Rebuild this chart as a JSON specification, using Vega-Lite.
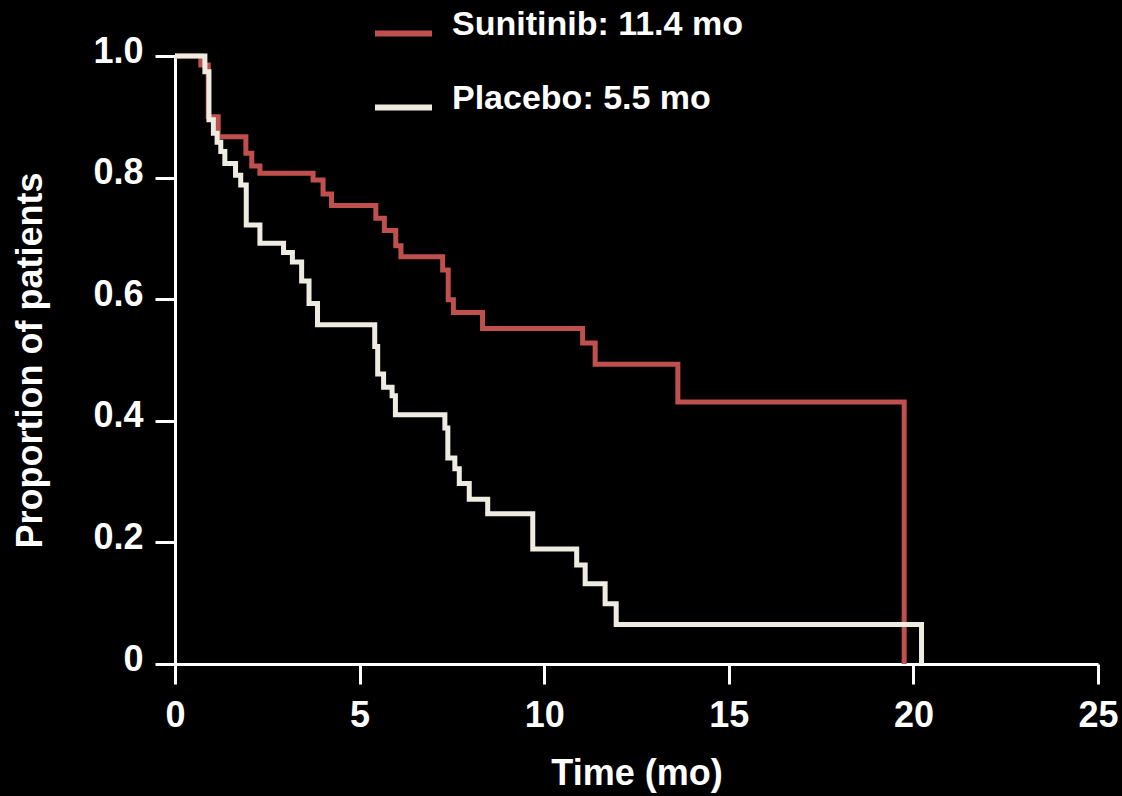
{
  "$schema": "https://vega.github.io/schema/vega-lite/v6.json",
  "width": 923,
  "height": 608,
  "autosize": {"type": "none"},
  "padding": {"left": 175, "top": 56, "right": 24, "bottom": 132},
  "background": "#000000",
  "config": {
    "view": {"stroke": null},
    "font": "Liberation Sans",
    "axis": {
      "grid": false,
      "domainColor": "#FFFFFF",
      "domainWidth": 3,
      "tickColor": "#FFFFFF",
      "tickWidth": 3,
      "tickSize": 20,
      "labelColor": "#FFFFFF",
      "labelFont": "Liberation Sans",
      "labelFontWeight": "bold",
      "labelFontSize": 36,
      "titleColor": "#FFFFFF",
      "titleFont": "Liberation Sans",
      "titleFontWeight": "bold",
      "titleFontSize": 36
    }
  },
  "data": {
    "values": [
      {"arm": "Sunitinib: 11.4 mo", "t": 0, "s": 1.0},
      {"arm": "Sunitinib: 11.4 mo", "t": 0.70, "s": 0.985},
      {"arm": "Sunitinib: 11.4 mo", "t": 0.90, "s": 0.90},
      {"arm": "Sunitinib: 11.4 mo", "t": 1.17, "s": 0.867},
      {"arm": "Sunitinib: 11.4 mo", "t": 1.92, "s": 0.840},
      {"arm": "Sunitinib: 11.4 mo", "t": 2.08, "s": 0.819},
      {"arm": "Sunitinib: 11.4 mo", "t": 2.30, "s": 0.807},
      {"arm": "Sunitinib: 11.4 mo", "t": 3.74, "s": 0.796},
      {"arm": "Sunitinib: 11.4 mo", "t": 4.01, "s": 0.773},
      {"arm": "Sunitinib: 11.4 mo", "t": 4.24, "s": 0.754},
      {"arm": "Sunitinib: 11.4 mo", "t": 5.44, "s": 0.733},
      {"arm": "Sunitinib: 11.4 mo", "t": 5.67, "s": 0.713},
      {"arm": "Sunitinib: 11.4 mo", "t": 5.98, "s": 0.688},
      {"arm": "Sunitinib: 11.4 mo", "t": 6.12, "s": 0.670},
      {"arm": "Sunitinib: 11.4 mo", "t": 7.25, "s": 0.648},
      {"arm": "Sunitinib: 11.4 mo", "t": 7.40, "s": 0.599},
      {"arm": "Sunitinib: 11.4 mo", "t": 7.54, "s": 0.578},
      {"arm": "Sunitinib: 11.4 mo", "t": 8.33, "s": 0.552},
      {"arm": "Sunitinib: 11.4 mo", "t": 11.04, "s": 0.528},
      {"arm": "Sunitinib: 11.4 mo", "t": 11.38, "s": 0.493},
      {"arm": "Sunitinib: 11.4 mo", "t": 13.62, "s": 0.431},
      {"arm": "Sunitinib: 11.4 mo", "t": 19.75, "s": 0.0},
      {"arm": "Placebo: 5.5 mo", "t": 0, "s": 1.0},
      {"arm": "Placebo: 5.5 mo", "t": 0.81, "s": 0.974},
      {"arm": "Placebo: 5.5 mo", "t": 0.92, "s": 0.895},
      {"arm": "Placebo: 5.5 mo", "t": 1.04, "s": 0.873},
      {"arm": "Placebo: 5.5 mo", "t": 1.14, "s": 0.858},
      {"arm": "Placebo: 5.5 mo", "t": 1.24, "s": 0.843},
      {"arm": "Placebo: 5.5 mo", "t": 1.35, "s": 0.823},
      {"arm": "Placebo: 5.5 mo", "t": 1.64, "s": 0.804},
      {"arm": "Placebo: 5.5 mo", "t": 1.78, "s": 0.788},
      {"arm": "Placebo: 5.5 mo", "t": 1.93, "s": 0.722},
      {"arm": "Placebo: 5.5 mo", "t": 2.30, "s": 0.692},
      {"arm": "Placebo: 5.5 mo", "t": 2.94, "s": 0.677},
      {"arm": "Placebo: 5.5 mo", "t": 3.18, "s": 0.661},
      {"arm": "Placebo: 5.5 mo", "t": 3.43, "s": 0.630},
      {"arm": "Placebo: 5.5 mo", "t": 3.63, "s": 0.593},
      {"arm": "Placebo: 5.5 mo", "t": 3.86, "s": 0.558},
      {"arm": "Placebo: 5.5 mo", "t": 5.41, "s": 0.522},
      {"arm": "Placebo: 5.5 mo", "t": 5.49, "s": 0.477},
      {"arm": "Placebo: 5.5 mo", "t": 5.65, "s": 0.455},
      {"arm": "Placebo: 5.5 mo", "t": 5.88, "s": 0.441},
      {"arm": "Placebo: 5.5 mo", "t": 5.97, "s": 0.410},
      {"arm": "Placebo: 5.5 mo", "t": 7.31, "s": 0.388},
      {"arm": "Placebo: 5.5 mo", "t": 7.39, "s": 0.339},
      {"arm": "Placebo: 5.5 mo", "t": 7.58, "s": 0.321},
      {"arm": "Placebo: 5.5 mo", "t": 7.70, "s": 0.297},
      {"arm": "Placebo: 5.5 mo", "t": 7.97, "s": 0.271},
      {"arm": "Placebo: 5.5 mo", "t": 8.47, "s": 0.247},
      {"arm": "Placebo: 5.5 mo", "t": 9.69, "s": 0.189},
      {"arm": "Placebo: 5.5 mo", "t": 10.88, "s": 0.163},
      {"arm": "Placebo: 5.5 mo", "t": 11.11, "s": 0.132},
      {"arm": "Placebo: 5.5 mo", "t": 11.65, "s": 0.099},
      {"arm": "Placebo: 5.5 mo", "t": 11.95, "s": 0.065},
      {"arm": "Placebo: 5.5 mo", "t": 20.22, "s": 0.0}
    ]
  },
  "mark": {"type": "line", "interpolate": "step-after", "strokeWidth": 5, "clip": false},
  "encoding": {
    "x": {
      "field": "t",
      "type": "quantitative",
      "scale": {"domain": [0, 25], "nice": false, "zero": true},
      "axis": {
        "title": "Time (mo)",
        "values": [0, 5, 10, 15, 20, 25],
        "labelPadding": 14,
        "titlePadding": 23,
        "labelFlush": false
      }
    },
    "y": {
      "field": "s",
      "type": "quantitative",
      "scale": {"domain": [0, 1], "nice": false},
      "axis": {
        "title": "Proportion of patients",
        "values": [0, 0.2, 0.4, 0.6, 0.8, 1.0],
        "labelExpr": "datum.value == 0 ? '0' : format(datum.value, '.1f')",
        "labelPadding": 12,
        "labelOffset": -5,
        "titlePadding": 43,
        "labelFlush": false
      }
    },
    "color": {
      "field": "arm",
      "type": "nominal",
      "sort": null,
      "scale": {
        "domain": ["Sunitinib: 11.4 mo", "Placebo: 5.5 mo"],
        "range": ["#C0504D", "#EEECE1"]
      },
      "legend": {
        "title": null,
        "orient": "none",
        "legendX": 197,
        "legendY": -54,
        "direction": "vertical",
        "padding": 0,
        "symbolType": "stroke",
        "symbolSize": 3249,
        "symbolStrokeWidth": 6,
        "labelFont": "Liberation Sans",
        "labelFontWeight": "bold",
        "labelFontSize": 34,
        "labelColor": "#FFFFFF",
        "labelOffset": 17,
        "labelLimit": 0,
        "rowPadding": 30,
        "encode": {"labels": {"update": {"dy": {"value": -9}}}}
      }
    }
  }
}
